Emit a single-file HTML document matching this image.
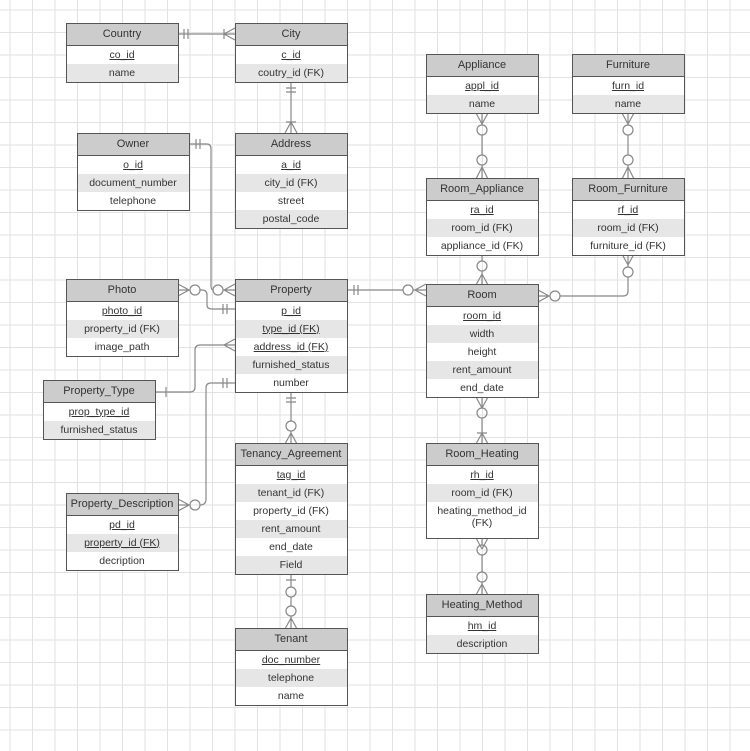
<!DOCTYPE html>
<html><head><meta charset="utf-8"><style>
html,body{margin:0;padding:0}
body{width:750px;height:751px;position:relative;overflow:hidden;background:#fff;
background-image:linear-gradient(to right,#e2e2e2 1px,transparent 1px),linear-gradient(to bottom,#e2e2e2 1px,transparent 1px);
background-size:22.5px 22.5px;background-position:9.5px 9.5px;font-family:"Liberation Sans",sans-serif}
.t{position:absolute;width:111px;border:1.5px solid #555;background:#fff;font-size:10.5px;color:#333;text-align:center;box-sizing:content-box;margin:-0.5px 0 0 -0.5px}
.t .h{height:21px;line-height:21px;background:#ccc;border-bottom:1.5px solid #555;font-size:11px;color:#333}
.t .r{height:18px;line-height:18px;white-space:nowrap}
.t .r:nth-child(odd){background:#e6e6e6}
.t .u{text-decoration:underline}
svg{position:absolute;left:0;top:0}
</style></head><body>
<svg width="750" height="751" fill="none" stroke="#888" stroke-width="1.2">
<path d="M178 34H235 M184 29v10 M188 29v10 M224 29v10 M224 34L235 28 M224 34L235 40"/>
<path d="M291 81V133 M286 88h10 M286 92h10 M286 122h10 M291 122L285 133 M291 122L297 133"/>
<path d="M189 144H207Q211 144 211 149V285Q211 290 213 290 M196 139v10 M200 139v10"/>
<circle cx="218" cy="290" r="5"/>
<path d="M223 290H235 M224 290L235 284 M224 290L235 296"/>
<path d="M178 284L189 290L178 296 M178 290H190"/>
<circle cx="195" cy="290" r="5"/>
<path d="M200 290H202Q207 290 207 295V305Q207 309 212 309H235 M223 304v10 M227 304v10"/>
<path d="M155 392H190Q195 392 195 387V350Q195 345 200 345H235 M166 387v10 M224 345L235 339 M224 345L235 351"/>
<path d="M178 499L189 505L178 511 M178 505H190"/>
<circle cx="195" cy="505" r="5"/>
<path d="M200 505Q206 505 206 499V388Q206 383 211 383H235 M223 378v10 M227 378v10"/>
<path d="M291 392V421 M286 398h10 M286 402h10"/>
<circle cx="291" cy="426" r="5"/>
<path d="M291 431V444 M291 433L285 444 M291 433L297 444"/>
<path d="M291 574V587 M286 580h10"/>
<circle cx="291" cy="592" r="5"/>
<path d="M291 597V606"/>
<circle cx="291" cy="611" r="5"/>
<path d="M291 616V629 M291 618L285 629 M291 618L297 629"/>
<path d="M347 290H403 M354 285v10 M358 285v10"/>
<circle cx="408" cy="290" r="5"/>
<path d="M413 290L426 290 M415 290L426 284 M415 290L426 296"/>
<path d="M538 290L549 296L538 302 M538 296H550"/>
<circle cx="555" cy="296" r="5"/>
<path d="M560 296H623Q628 296 628 291V277"/>
<circle cx="628" cy="272" r="5"/>
<path d="M628 267V254 M628 265L622 254 M628 265L634 254"/>
<path d="M482 254V261"/>
<circle cx="482" cy="266" r="5"/>
<path d="M482 271V285 M482 274L476 285 M482 274L488 285"/>
<path d="M482 113V125 M482 124L476 113 M482 124L488 113"/>
<circle cx="482" cy="130" r="5"/>
<path d="M482 135V155"/>
<circle cx="482" cy="160" r="5"/>
<path d="M482 165V179 M482 167L476 179 M482 167L488 179"/>
<path d="M628 113V125 M628 124L622 113 M628 124L634 113"/>
<circle cx="628" cy="130" r="5"/>
<path d="M628 135V155"/>
<circle cx="628" cy="160" r="5"/>
<path d="M628 165V179 M628 167L622 179 M628 167L634 179"/>
<path d="M482 397V408 M482 408L476 397 M482 408L488 397"/>
<circle cx="482" cy="413" r="5"/>
<path d="M482 418V444 M477 433h10 M482 433L476 444 M482 433L488 444"/>
<path d="M482 538V545 M482 549L476 538 M482 549L488 538"/>
<circle cx="482" cy="550" r="5"/>
<path d="M482 555V572"/>
<circle cx="482" cy="577" r="5"/>
<path d="M482 582V595 M482 584L476 595 M482 584L488 595"/>
</svg>

<div class="t" style="left:66px;top:23px"><div class="h">Country</div><div class="r u">co_id</div><div class="r">name</div></div>
<div class="t" style="left:235px;top:23px"><div class="h">City</div><div class="r u">c_id</div><div class="r">coutry_id (FK)</div></div>
<div class="t" style="left:77px;top:133px"><div class="h">Owner</div><div class="r u">o_id</div><div class="r">document_number</div><div class="r">telephone</div></div>
<div class="t" style="left:235px;top:133px"><div class="h">Address</div><div class="r u">a_id</div><div class="r">city_id (FK)</div><div class="r">street</div><div class="r">postal_code</div></div>
<div class="t" style="left:426px;top:54px"><div class="h">Appliance</div><div class="r u">appl_id</div><div class="r">name</div></div>
<div class="t" style="left:572px;top:54px"><div class="h">Furniture</div><div class="r u">furn_id</div><div class="r">name</div></div>
<div class="t" style="left:426px;top:178px"><div class="h">Room_Appliance</div><div class="r u">ra_id</div><div class="r">room_id (FK)</div><div class="r">appliance_id (FK)</div></div>
<div class="t" style="left:572px;top:178px"><div class="h">Room_Furniture</div><div class="r u">rf_id</div><div class="r">room_id (FK)</div><div class="r">furniture_id (FK)</div></div>
<div class="t" style="left:66px;top:279px"><div class="h">Photo</div><div class="r u">photo_id</div><div class="r">property_id (FK)</div><div class="r">image_path</div></div>
<div class="t" style="left:235px;top:279px"><div class="h">Property</div><div class="r u">p_id</div><div class="r u">type_id (FK)</div><div class="r u">address_id (FK)</div><div class="r">furnished_status</div><div class="r">number</div></div>
<div class="t" style="left:426px;top:284px"><div class="h">Room</div><div class="r u">room_id</div><div class="r">width</div><div class="r">height</div><div class="r">rent_amount</div><div class="r">end_date</div></div>
<div class="t" style="left:43px;top:380px"><div class="h">Property_Type</div><div class="r u">prop_type_id</div><div class="r">furnished_status</div></div>
<div class="t" style="left:66px;top:493px"><div class="h">Property_Description</div><div class="r u">pd_id</div><div class="r u">property_id (FK)</div><div class="r">decription</div></div>
<div class="t" style="left:235px;top:443px"><div class="h">Tenancy_Agreement</div><div class="r u">tag_id</div><div class="r">tenant_id (FK)</div><div class="r">property_id (FK)</div><div class="r">rent_amount</div><div class="r">end_date</div><div class="r">Field</div></div>
<div class="t" style="left:426px;top:443px"><div class="h">Room_Heating</div><div class="r u">rh_id</div><div class="r">room_id (FK)</div><div class="r" style="height:36px;line-height:12px;white-space:normal;padding-top:3px;box-sizing:border-box;background:#fff">heating_method_id (FK)</div></div>
<div class="t" style="left:426px;top:594px"><div class="h">Heating_Method</div><div class="r u">hm_id</div><div class="r">description</div></div>
<div class="t" style="left:235px;top:628px"><div class="h">Tenant</div><div class="r u">doc_number</div><div class="r">telephone</div><div class="r">name</div></div>
</body></html>
